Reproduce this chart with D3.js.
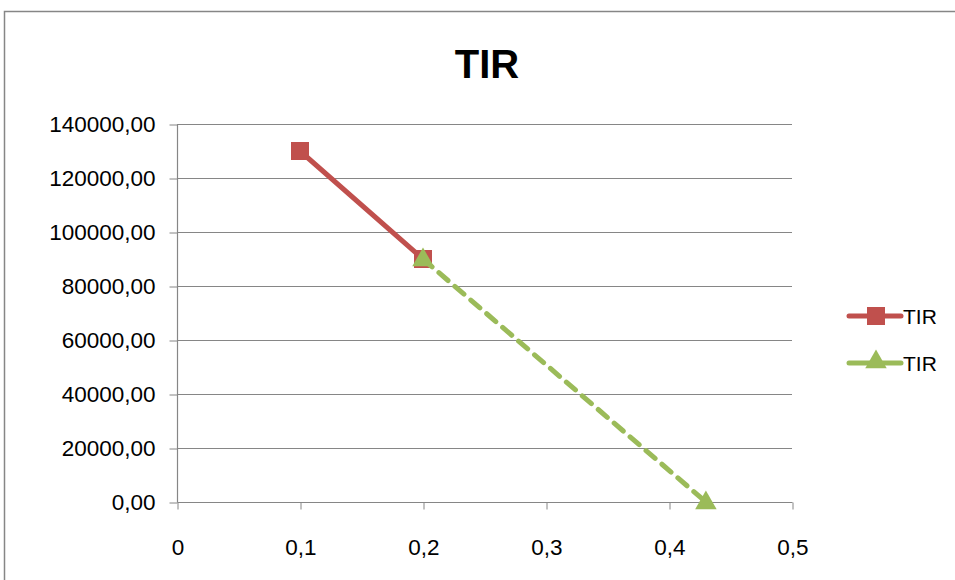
<!DOCTYPE html>
<html>
<head>
<meta charset="utf-8">
<script src="https://cdn.jsdelivr.net/npm/d3@7"></script>
<style>
  body { margin: 0; background: #fff; }
  text { font-family: "Liberation Sans", Arial, sans-serif; }
</style>
</head>
<body>
<div id="chart"></div>
<script>
// data
var redX = [0.1, 0.2];
var redY = [130000, 90000];
var greenX = [0.2, 0.43];
var greenY = [90000, 0];
var seriesNames = ['TIR', 'TIR'];
var xTicks = [0, 0.1, 0.2, 0.3, 0.4, 0.5];
var yTicks = [0, 20000, 40000, 60000, 80000, 100000, 120000, 140000];

var width = 955, height = 580;
var plotLeft = 177, plotRight = 792, plotTop = 124, plotBottom = 502;

var svg = d3.select('#chart').append('svg')
    .attr('width', width)
    .attr('height', height);

// chart border
svg.append('rect')
    .attr('x', 4.5).attr('y', 11.5)
    .attr('width', 1000).attr('height', 1000)
    .attr('fill', '#fff')
    .attr('stroke', '#868686')
    .attr('stroke-width', 1.5);

var xscale = d3.scaleLinear().domain([0, 0.5]).range([plotLeft, plotRight]);
var yscale = d3.scaleLinear().domain([0, 140000]).range([plotBottom, plotTop]);

// gridlines
svg.append('g').selectAll('line')
    .data(yTicks.slice(1))
    .enter().append('line')
    .attr('x1', plotLeft).attr('x2', plotRight)
    .attr('y1', d => Math.round(yscale(d)) + 0.5)
    .attr('y2', d => Math.round(yscale(d)) + 0.5)
    .attr('stroke', '#868686');

var fmt = d => d3.format('.2f')(d).replace('.', ',');

var yaxis = d3.axisLeft(yscale).tickValues(yTicks).tickFormat(fmt).tickSize(8).tickPadding(14);
var gy = svg.append('g')
    .attr('transform', 'translate(' + (plotLeft + 0.5) + ',0.5)')
    .call(yaxis);

var xaxis = d3.axisBottom(xscale).tickValues(xTicks)
    .tickFormat(d => d === 0 ? '0' : String(d).replace('.', ','))
    .tickSize(7).tickPadding(30);
var gx = svg.append('g')
    .attr('transform', 'translate(0.5,' + (plotBottom + 0.5) + ')')
    .call(xaxis);

[gx, gy].forEach(function(g) {
    g.attr('font-size', null).attr('font-family', null);
    g.select('.domain').attr('stroke', '#868686').attr('stroke-width', 1.2);
    g.selectAll('.tick line').attr('stroke', '#868686');
    g.selectAll('.tick text').attr('fill', '#000').style('font-size', '22.5px');
});
gy.select('.domain').attr('d', 'M0,' + plotTop + 'V' + plotBottom);
gx.select('.domain').attr('d', 'M' + plotLeft + ',0H' + plotRight);

// title
svg.append('text')
    .attr('x', 487).attr('y', 78)
    .attr('text-anchor', 'middle')
    .style('font-size', '40px')
    .style('font-weight', 'bold')
    .text('TIR');

var line = d3.line().x(d => xscale(d[0])).y(d => yscale(d[1]));
var redData = redX.map((x, i) => [x, redY[i]]);
var greenData = greenX.map((x, i) => [x, greenY[i]]);

svg.append('path')
    .datum(redData)
    .attr('d', line)
    .attr('fill', 'none')
    .attr('stroke', '#C0504D')
    .attr('stroke-width', 5)
    .attr('stroke-linecap', 'round');

svg.selectAll('.sq')
    .data(redData)
    .enter().append('rect')
    .attr('class', 'sq')
    .attr('x', d => xscale(d[0]) - 9)
    .attr('y', d => yscale(d[1]) - 9)
    .attr('width', 18).attr('height', 18)
    .attr('fill', '#C0504D');

svg.append('path')
    .datum(greenData)
    .attr('d', line)
    .attr('fill', 'none')
    .attr('stroke', '#9BBB59')
    .attr('stroke-width', 5)
    .attr('stroke-dasharray', '12,9')
    .attr('stroke-linecap', 'round');

var tri = d3.symbol().type(d3.symbolTriangle).size(200);
svg.selectAll('.tri')
    .data(greenData)
    .enter().append('path')
    .attr('class', 'tri')
    .attr('d', tri)
    .attr('transform', d => 'translate(' + xscale(d[0]) + ',' + (yscale(d[1]) + 1) + ')')
    .attr('fill', '#9BBB59');

// legend
var legend = svg.append('g');
var colors = ['#C0504D', '#9BBB59'];
seriesNames.forEach(function(name, i) {
    var y = 316 + i * 47;
    legend.append('line')
        .attr('x1', 849).attr('x2', 901)
        .attr('y1', y).attr('y2', y)
        .attr('stroke', colors[i])
        .attr('stroke-width', 5)
        .attr('stroke-linecap', 'round');
    if (i === 0) {
        legend.append('rect')
            .attr('x', 867).attr('y', y - 9)
            .attr('width', 18).attr('height', 18)
            .attr('fill', colors[i]);
    } else {
        legend.append('path')
            .attr('d', tri)
            .attr('transform', 'translate(876,' + (y - 1) + ')')
            .attr('fill', colors[i]);
    }
    legend.append('text')
        .attr('x', 903).attr('y', y + 8)
        .style('font-size', '21px')
        .text(name);
});
</script>
</body>
</html>
